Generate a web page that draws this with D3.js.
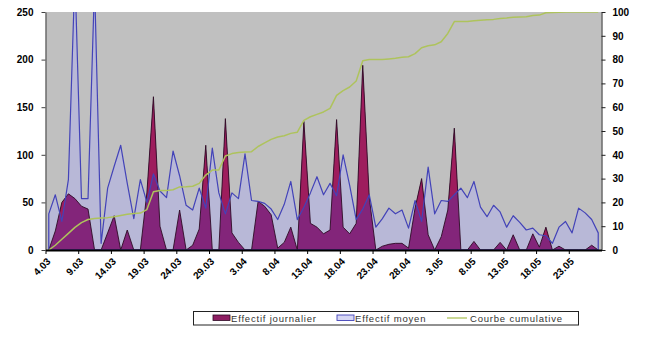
<!DOCTYPE html>
<html>
<head>
<meta charset="utf-8">
<script src="https://cdn.jsdelivr.net/npm/d3@7"></script>
<style>
  html, body { margin: 0; padding: 0; background: #fff; }
  svg { display: block; font-family: "Liberation Sans", Arial, sans-serif; }
</style>
</head>
<body>
<svg id="chart" width="651" height="340"></svg>
<script>
// Daily categories from 4 March to 27 May, one label every five days
const tickLabels = ["4.03", "9.03", "14.03", "19.03", "24.03", "29.03", "3.04", "8.04", "13.04",
  "18.04", "23.04", "28.04", "3.05", "8.05", "13.05", "18.05", "23.05"];

// Effectif journalier (left axis)
const journalier = [
  0, 20, 50, 59, 54, 46, 43, 0, 0, 18,
  36, 0, 21, 0, 0, 60, 161, 25, 0, 0,
  42, 0, 5, 22, 110, 0, 0, 138, 18, 8,
  0, 0, 51, 46, 37, 2, 8, 24, 0, 135,
  28, 24, 17, 21, 137, 24, 17, 28, 194, 55,
  0, 4, 6, 7, 7, 2, 44, 75, 16, 0,
  14, 42, 128, 0, 0, 9, 0, 0, 0, 8,
  0, 16, 0, 0, 17, 3, 24, 0, 4, 0,
  0, 0, 0, 5, 0
];

// Effectif moyen (left axis)
const moyen = [
  38, 58, 30, 74, 290, 54, 54, 280, 7, 65,
  88, 110, 70, 33, 74, 50, 80, 62, 55, 104,
  78, 47, 42, 65, 44, 107, 60, 38, 60, 54,
  101, 52, 51, 49, 43, 32, 48, 72, 32, 45,
  60, 77, 58, 70, 57, 100, 68, 32, 43, 58,
  24, 33, 44, 38, 42, 23, 52, 30, 87, 38,
  52, 51, 58, 65, 55, 72, 45, 35, 47, 40,
  24, 36, 29, 21, 23, 16, 15, 7, 24, 30,
  18, 44, 39, 32, 18
];

// Courbe cumulative, in percent (right axis)
const cumul = [
  0, 2, 4.5, 7, 9.5, 11.5, 12.8, 13.2, 13.4, 13.6,
  14, 14.5, 15, 15.3, 15.5, 17, 24.5, 25, 25, 25.3,
  26.5, 26.6, 26.8, 28, 31.5, 33.6, 33.6, 39.5, 40.5, 41,
  41.2, 41.3, 43.5, 45, 46.5, 47.5, 48, 49, 49.5, 54.5,
  56, 57, 58, 59.5, 65, 67, 68.5, 71, 79.5, 80,
  80, 80, 80.3, 80.6, 81, 81.2, 82.5, 85, 85.8, 86.2,
  87.5, 91, 96, 96, 96, 96.3, 96.5, 96.7, 96.9, 97.3,
  97.5, 97.8, 97.9, 98, 98.5, 98.7, 99.7, 99.8, 99.9, 100,
  100, 100, 100, 100, 100
];

const leftTicks = [0, 50, 100, 150, 200, 250];
const rightTicks = [0, 10, 20, 30, 40, 50, 60, 70, 80, 90, 100];
const legendItems = ["Effectif journalier", "Effectif moyen", "Courbe cumulative"];

const svg = d3.select("#chart");
const plot = { left: 45.5, right: 601.5, top: 12, bottom: 250 };

// category boundaries on a linear scale, points sit at category centres
const x = d3.scaleLinear().domain([0, journalier.length]).range([plot.left, plot.right]);
const cx = i => x(i + 0.5);
const yL = d3.scaleLinear().domain([0, 250]).range([plot.bottom, plot.top]);
const yR = d3.scaleLinear().domain([0, 100]).range([plot.bottom, plot.top]);

const defs = svg.append("defs");
defs.append("clipPath").attr("id", "plotClip")
  .append("rect")
  .attr("x", plot.left).attr("y", plot.top)
  .attr("width", plot.right - plot.left).attr("height", plot.bottom - plot.top);

// region lying above the "moyen" curve
const aboveMoyen = d3.area()
  .x((d, i) => cx(i))
  .y0(plot.top - 20)
  .y1(d => yL(d));
defs.append("clipPath").attr("id", "aboveClip")
  .append("path").attr("d", aboveMoyen(moyen));

svg.append("rect")
  .attr("x", plot.left).attr("y", plot.top)
  .attr("width", plot.right - plot.left).attr("height", plot.bottom - plot.top)
  .attr("fill", "#c0c0c0");

const areaL = d3.area().x((d, i) => cx(i)).y0(plot.bottom).y1(d => yL(d));
const lineR = d3.line().x((d, i) => cx(i)).y(d => yR(d));

const g = svg.append("g").attr("clip-path", "url(#plotClip)");

// moyen fill
g.append("path").attr("d", areaL(moyen)).attr("fill", "#b8b8d7");
// journalier fill: purple where it sits under the moyen area, crimson above it
g.append("path").attr("d", areaL(journalier)).attr("fill", "#83257a");
g.append("g").attr("clip-path", "url(#aboveClip)")
  .append("path").attr("d", areaL(journalier)).attr("fill", "#9e1d5d");
g.append("path").attr("d", areaL(journalier))
  .attr("fill", "none").attr("stroke", "#2e0b25").attr("stroke-width", 0.9)
  .attr("stroke-linejoin", "round");
// moyen outline
g.append("path").attr("d", areaL(moyen))
  .attr("fill", "none").attr("stroke", "#4343b8").attr("stroke-width", 1.2)
  .attr("stroke-linejoin", "round");
// cumulative curve
g.append("path").attr("d", lineR(cumul))
  .attr("fill", "none").attr("stroke", "#aec35c").attr("stroke-width", 1.5)
  .attr("stroke-linejoin", "round");

// axes
const styleAxis = (sel, color) => {
  sel.select(".domain").attr("stroke", color);
  sel.selectAll(".tick line").attr("stroke", color);
  sel.selectAll("text").attr("fill", "#000").attr("font-size", 10).attr("font-weight", "bold")
    .attr("font-family", "'Liberation Sans', Arial, sans-serif");
};

const axL = svg.append("g").attr("transform", `translate(${plot.left},0)`)
  .call(d3.axisLeft(yL).tickValues(leftTicks).tickSize(4).tickSizeOuter(0).tickPadding(8));
styleAxis(axL, "#404040");

const axR = svg.append("g").attr("transform", `translate(${plot.right},0)`)
  .call(d3.axisRight(yR).tickValues(rightTicks).tickSize(4).tickSizeOuter(0).tickPadding(7));
styleAxis(axR, "#202020");

const axB = svg.append("g").attr("transform", `translate(0,${plot.bottom})`)
  .call(d3.axisBottom(x)
    .tickValues(d3.range(0, tickLabels.length * 5, 5))
    .tickFormat((d, i) => tickLabels[i])
    .tickSize(4).tickSizeOuter(0));
styleAxis(axB, "#000");
axB.select(".domain").attr("stroke-width", 2);
axB.selectAll("text")
  .attr("text-anchor", "end")
  .attr("transform", "translate(0,4) rotate(-45)")
  .attr("x", -2).attr("y", 6).attr("dy", "0.35em");

// legend
const lg = svg.append("g");
lg.append("rect").attr("x", 193.5).attr("y", 311.5).attr("width", 385).attr("height", 13.5)
  .attr("fill", "#fff").attr("stroke", "#222").attr("stroke-width", 1);
const legendX = [213, 337, 447];
const textX = [231, 355, 470];
lg.append("rect").attr("x", legendX[0]).attr("y", 315).attr("width", 17).attr("height", 5.5)
  .attr("fill", "#8e1f63").attr("stroke", "#2e0b25").attr("stroke-width", 0.8);
lg.append("rect").attr("x", legendX[1]).attr("y", 315).attr("width", 17).attr("height", 5.5)
  .attr("fill", "#d6d6f4").attr("stroke", "#4343b8").attr("stroke-width", 0.9);
lg.append("line").attr("x1", legendX[2]).attr("x2", legendX[2] + 20).attr("y1", 318).attr("y2", 318)
  .attr("stroke", "#aec35c").attr("stroke-width", 1.3);
lg.selectAll("text.lab").data(legendItems).join("text")
  .attr("class", "lab")
  .attr("x", (d, i) => textX[i]).attr("y", 321.5)
  .attr("font-size", 9.5).attr("letter-spacing", 0.8).attr("fill", "#333")
  .text(d => d);
</script>
</body>
</html>
